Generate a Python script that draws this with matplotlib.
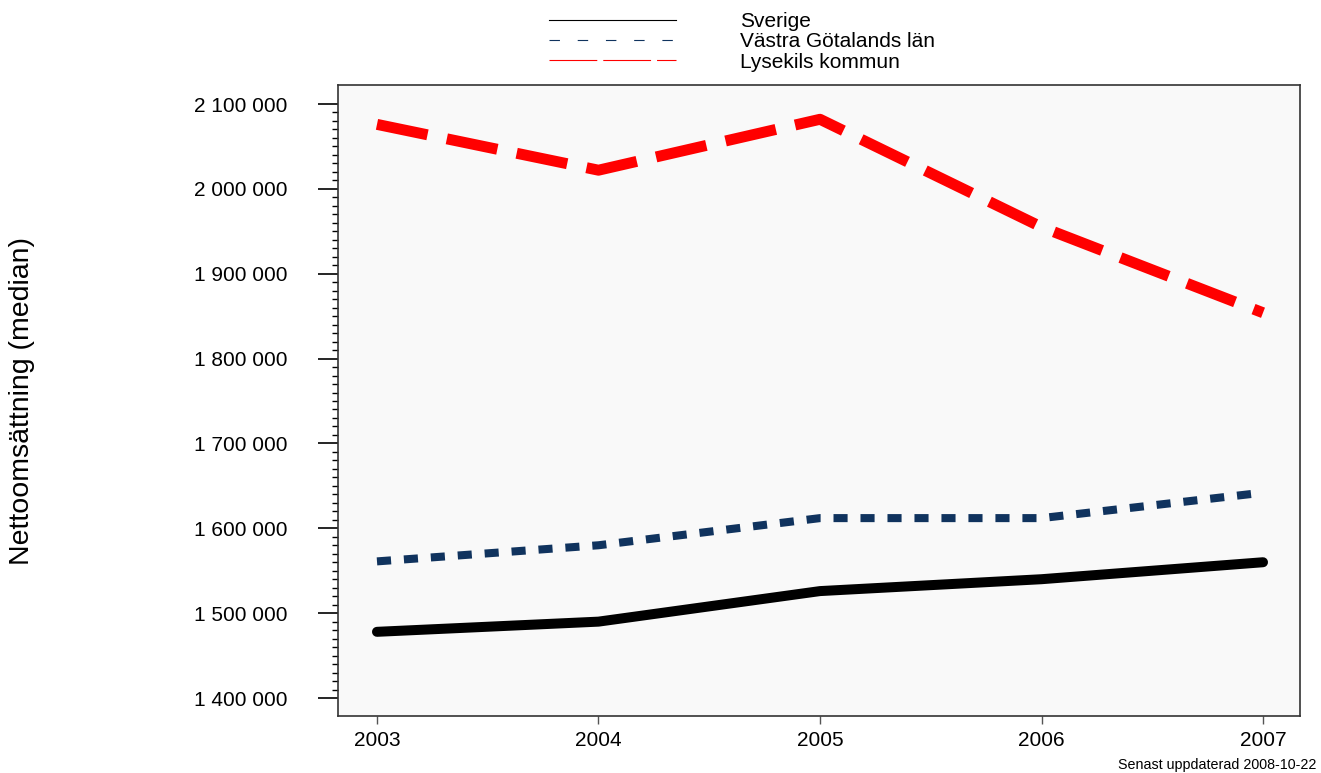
import numpy as np
import matplotlib.pyplot as plt
from matplotlib.lines import Line2D
from matplotlib.ticker import MultipleLocator, FixedLocator, FuncFormatter

plt.rcParams['font.family'] = ['Liberation Sans', 'DejaVu Sans']

years = [2003, 2004, 2005, 2006, 2007]
sverige = [1478000, 1490000, 1526000, 1540000, 1560000]
vastra = [1561000, 1580000, 1612000, 1612000, 1642000]
lysekil = [2076000, 2022000, 2082000, 1955000, 1854000]
labels = ['Sverige', 'Västra Götalands län', 'Lysekils kommun']

fig = plt.figure(figsize=(13.21, 7.73), dpi=100)
ax = fig.add_axes([338 / 1321, 1 - 716 / 773, (1300 - 338) / 1321, (716 - 85) / 773])
ax.set_facecolor('#f9f9f9')

ax.plot(years, sverige, color='black', lw=7.2, solid_capstyle='round')
ax.plot(years, vastra, color='#10335e', lw=5.8, linestyle=(0, (1.75, 1.6)),
        dash_capstyle='butt')
ax.plot(years, lysekil, color='#ff0000', lw=7.9, linestyle=(0, (4.7, 1.8)),
        dash_capstyle='butt')

ax.set_xlim(2002.824, 2007.167)
ax.set_ylim(1378800, 2122400)
ax.set_xticks(years)
ax.yaxis.set_major_locator(MultipleLocator(100000))
ax.yaxis.set_minor_locator(FixedLocator(np.arange(1400000, 2100001, 10000)))
ax.yaxis.set_major_formatter(FuncFormatter(lambda v, p: f'{int(v):,}'.replace(',', ' ')))
ax.tick_params(axis='y', which='major', length=14.4, width=1.2, labelsize=15, pad=22)
ax.tick_params(axis='y', which='minor', length=4.5, width=1)
ax.tick_params(axis='x', length=6, width=1, labelsize=15, pad=5,
               colors='#555555', labelcolor='black')

for s in ax.spines.values():
    s.set_color('#333333')
    s.set_linewidth(1.2)

fig.text(22 / 1321, 1 - 401 / 773, 'Nettoomsättning (median)', rotation=90,
         fontsize=20.5, ha='center', va='center')
fig.text(1316 / 1321, 1 - 765 / 773, 'Senast uppdaterad 2008-10-22',
         fontsize=10.3, ha='right', va='center')

# thin legend lines like the original
handles = [
    Line2D([], [], color='black', lw=0.8),
    Line2D([], [], color='#10335e', lw=0.8, linestyle=(0, (9.4, 16))),
    Line2D([], [], color='#ff0000', lw=0.8, linestyle=(0, (43, 5.4))),
]
fig.legend(handles, labels, loc='upper left', bbox_to_anchor=(549 / 1321, 1 - 12 / 773),
           frameon=False, fontsize=15, handlelength=6.1, handletextpad=3.07,
           labelspacing=0.06, borderpad=0, borderaxespad=0)

fig.savefig('out.png', dpi=100)
